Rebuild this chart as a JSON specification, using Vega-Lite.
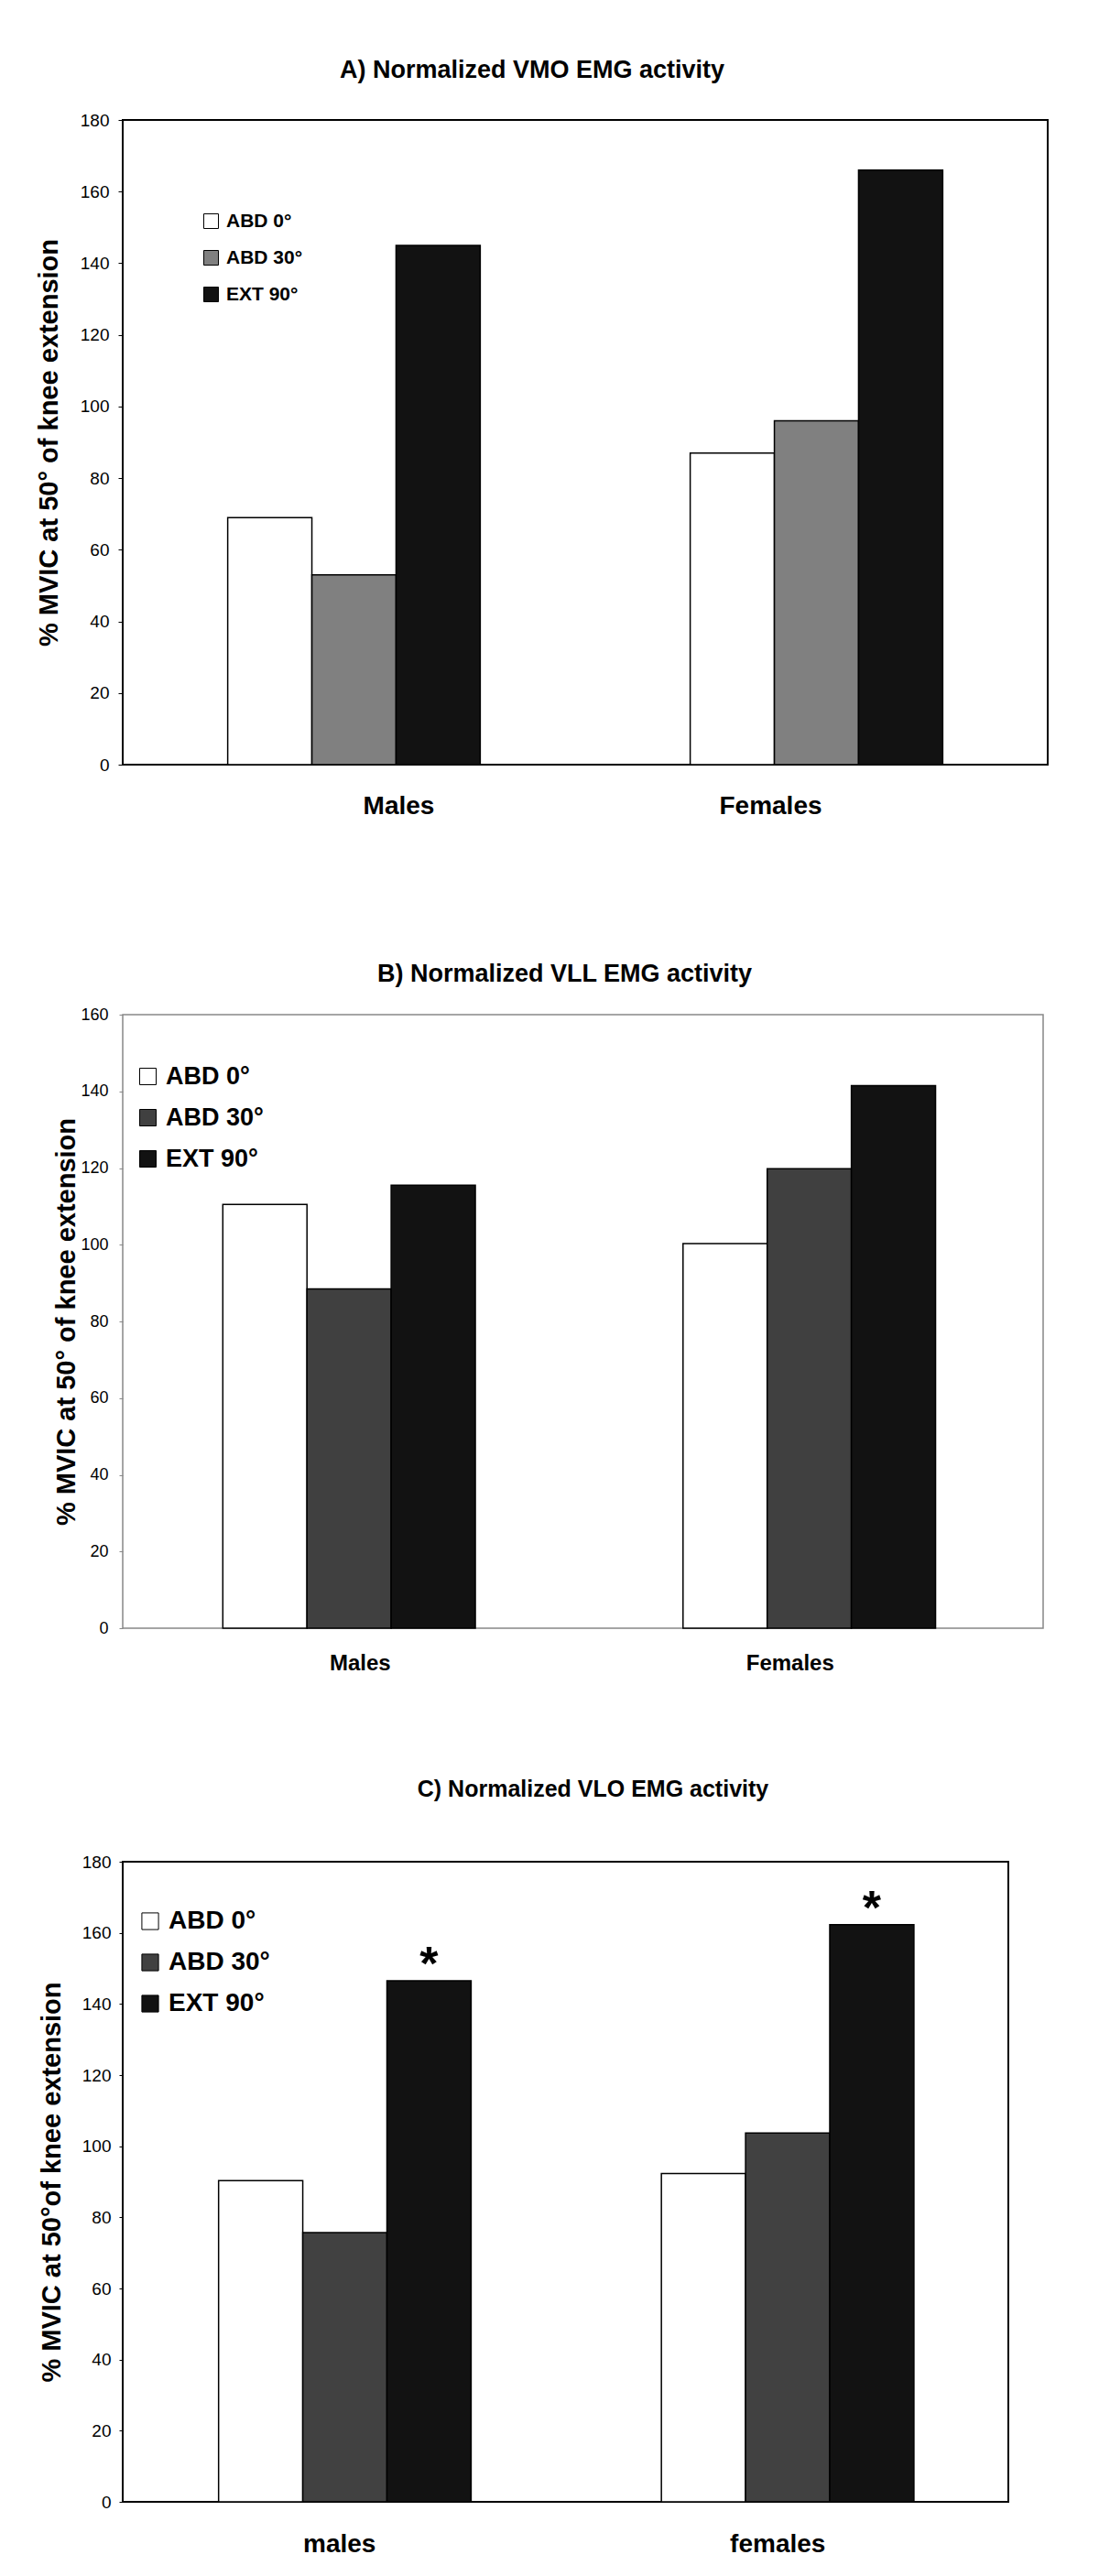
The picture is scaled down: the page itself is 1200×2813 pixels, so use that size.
{
  "$schema": "https://vega.github.io/schema/vega-lite/v6.json",
  "background": "white",
  "padding": {"left": 38, "top": 62, "right": 10, "bottom": 10},
  "bounds": "flush",
  "spacing": 273,
  "config": {
    "font": "Liberation Sans",
    "view": {"stroke": "black"},
    "axis": {"labelColor": "black", "titleColor": "black", "grid": false, "labelFont": "Liberation Sans", "titleFont": "Liberation Sans"},
    "legend": {"labelFont": "Liberation Sans"}
  },
  "datasets": {
    "vmo": [
      {"sex": "Males", "position": "ABD 0°", "value": 69},
      {"sex": "Males", "position": "ABD 30°", "value": 53},
      {"sex": "Males", "position": "EXT 90°", "value": 145},
      {"sex": "Females", "position": "ABD 0°", "value": 87},
      {"sex": "Females", "position": "ABD 30°", "value": 96},
      {"sex": "Females", "position": "EXT 90°", "value": 166}
    ],
    "vll": [
      {"sex": "Males", "position": "ABD 0°", "value": 110.5},
      {"sex": "Males", "position": "ABD 30°", "value": 88.5},
      {"sex": "Males", "position": "EXT 90°", "value": 115.5},
      {"sex": "Females", "position": "ABD 0°", "value": 100.3},
      {"sex": "Females", "position": "ABD 30°", "value": 119.8},
      {"sex": "Females", "position": "EXT 90°", "value": 141.5}
    ],
    "vlo": [
      {"sex": "males", "position": "ABD 0°", "value": 90.3, "star": ""},
      {"sex": "males", "position": "ABD 30°", "value": 75.7, "star": ""},
      {"sex": "males", "position": "EXT 90°", "value": 146.5, "star": "*"},
      {"sex": "females", "position": "ABD 0°", "value": 92.3, "star": ""},
      {"sex": "females", "position": "ABD 30°", "value": 103.7, "star": ""},
      {"sex": "females", "position": "EXT 90°", "value": 162.3, "star": "*"}
    ]
  },
  "resolve": {"scale": {"color": "independent", "x": "independent", "y": "independent"}, "legend": {"color": "independent"}},
  "vconcat": [
    {
      "title": {"text": "A) Normalized VMO EMG activity", "fontSize": 27, "fontWeight": "bold", "font": "Liberation Sans", "color": "black", "frame": "group", "anchor": "middle", "dx": -58, "offset": 10, "baseline": "alphabetic"},
      "width": 1010,
      "height": 704,
      "view": {"stroke": "black", "strokeWidth": 2},
      "data": {"name": "vmo"},
      "mark": {"type": "bar", "stroke": "black", "strokeWidth": 1.5},
      "encoding": {
        "x": {"field": "sex", "type": "nominal", "sort": ["Males", "Females"], "scale": {"paddingInner": 0.454, "paddingOuter": 0.227},
          "axis": {"title": null, "domain": false, "ticks": false, "tickSize": 0, "labelAngle": 0, "labelFontSize": 28, "labelFontWeight": "bold", "labelBaseline": "middle", "labelPadding": 45,
            "labelOffset": {"condition": {"test": "datum.value === 'Males'", "value": 49}, "value": -50}}},
        "xOffset": {"field": "position", "type": "nominal", "sort": ["ABD 0°", "ABD 30°", "EXT 90°"], "scale": {"paddingInner": 0, "paddingOuter": 0}},
        "y": {"field": "value", "type": "quantitative", "scale": {"domain": [0, 180], "nice": false},
          "axis": {"title": "% MVIC at 50° of knee extension", "titleFontSize": 29, "titleFontWeight": "bold", "titlePadding": 19, "domain": false, "ticks": true, "tickSize": 5, "tickColor": "black", "labelPadding": 10, "labelFontSize": 19, "labelFlush": false, "labelOverlap": false, "values": [0, 20, 40, 60, 80, 100, 120, 140, 160, 180]}},
        "color": {"field": "position", "type": "nominal", "sort": ["ABD 0°", "ABD 30°", "EXT 90°"],
          "scale": {"domain": ["ABD 0°", "ABD 30°", "EXT 90°"], "range": ["#ffffff", "#808080", "#121212"]},
          "legend": {"orient": "none", "legendX": 86, "legendY": 100, "title": null, "symbolType": "square", "symbolSize": 256, "symbolStrokeColor": "black", "symbolStrokeWidth": 1, "symbolOpacity": 1, "labelFontSize": 21, "labelFontWeight": "bold", "labelColor": "black", "labelOffset": 6, "rowPadding": 18, "padding": 0, "labelLimit": 300}}
      }
    },
    {
      "bounds": "flush",
      "spacing": 255,
      "resolve": {"scale": {"color": "independent", "x": "independent", "y": "independent"}, "legend": {"color": "independent"}},
      "vconcat": [
        {
          "title": {"text": "B) Normalized VLL EMG activity", "fontSize": 27, "fontWeight": "bold", "font": "Liberation Sans", "color": "black", "frame": "group", "anchor": "middle", "dx": -20, "offset": 0, "baseline": "alphabetic"},
          "width": 1005,
          "height": 670,
          "view": {"stroke": "#888888", "strokeWidth": 1.5},
          "data": {"name": "vll"},
          "mark": {"type": "bar", "stroke": "black", "strokeWidth": 1.5},
          "encoding": {
            "x": {"field": "sex", "type": "nominal", "sort": ["Males", "Females"], "scale": {"paddingInner": 0.435, "paddingOuter": 0.2175},
              "axis": {"title": null, "domain": false, "ticks": false, "tickSize": 0, "labelAngle": 0, "labelFontSize": 24, "labelFontWeight": "bold", "labelBaseline": "middle", "labelPadding": 38,
                "labelOffset": {"condition": {"test": "datum.value === 'Males'", "value": 8}, "value": -25}}},
            "xOffset": {"field": "position", "type": "nominal", "sort": ["ABD 0°", "ABD 30°", "EXT 90°"], "scale": {"paddingInner": 0, "paddingOuter": 0}},
            "y": {"field": "value", "type": "quantitative", "scale": {"domain": [0, 160], "nice": false},
              "axis": {"title": "% MVIC at 50° of knee extension", "titleFontSize": 29, "titleFontWeight": "bold", "titlePadding": 0, "domain": false, "ticks": true, "tickSize": 4, "tickColor": "#888888", "labelPadding": 12, "labelFontSize": 18, "labelFlush": false, "labelOverlap": false, "values": [0, 20, 40, 60, 80, 100, 120, 140, 160]}},
            "color": {"field": "position", "type": "nominal", "sort": ["ABD 0°", "ABD 30°", "EXT 90°"],
              "scale": {"domain": ["ABD 0°", "ABD 30°", "EXT 90°"], "range": ["#ffffff", "#404040", "#121212"]},
              "legend": {"orient": "none", "legendX": 14, "legendY": 54, "title": null, "symbolType": "square", "symbolSize": 324, "symbolStrokeColor": "black", "symbolStrokeWidth": 1, "symbolOpacity": 1, "labelFontSize": 27, "labelFontWeight": "bold", "labelColor": "black", "labelOffset": 6, "rowPadding": 17, "padding": 0, "labelLimit": 300}}
          }
        },
        {
          "title": {"text": "C) Normalized VLO EMG activity", "fontSize": 25, "fontWeight": "bold", "font": "Liberation Sans", "color": "black", "frame": "group", "anchor": "middle", "dx": 30, "offset": 37, "baseline": "alphabetic"},
          "width": 967,
          "height": 699,
          "view": {"stroke": "black", "strokeWidth": 2},
          "data": {"name": "vlo"},
          "encoding": {
            "x": {"field": "sex", "type": "nominal", "sort": ["males", "females"], "scale": {"paddingInner": 0.433, "paddingOuter": 0.2165},
              "axis": {"title": null, "domain": false, "ticks": false, "tickSize": 0, "labelAngle": 0, "labelFontSize": 28, "labelFontWeight": "bold", "labelBaseline": "middle", "labelPadding": 46,
                "labelOffset": {"condition": {"test": "datum.value === 'males'", "value": -5}, "value": -10}}},
            "xOffset": {"field": "position", "type": "nominal", "sort": ["ABD 0°", "ABD 30°", "EXT 90°"], "scale": {"paddingInner": 0, "paddingOuter": 0}},
            "y": {"field": "value", "type": "quantitative", "scale": {"domain": [0, 180], "nice": false},
              "axis": {"title": "% MVIC at 50°of knee extension", "titleFontSize": 29, "titleFontWeight": "bold", "titlePadding": 18, "domain": false, "ticks": true, "tickSize": 4, "tickColor": "black", "labelPadding": 9, "labelFontSize": 19, "labelFlush": false, "labelOverlap": false, "values": [0, 20, 40, 60, 80, 100, 120, 140, 160, 180]}}
          },
          "layer": [
            {
              "mark": {"type": "bar", "stroke": "black", "strokeWidth": 1.5},
              "encoding": {
                "color": {"field": "position", "type": "nominal", "sort": ["ABD 0°", "ABD 30°", "EXT 90°"],
                  "scale": {"domain": ["ABD 0°", "ABD 30°", "EXT 90°"], "range": ["#ffffff", "#414141", "#121212"]},
                  "legend": {"orient": "none", "legendX": 16, "legendY": 51, "title": null, "symbolType": "square", "symbolSize": 330, "symbolStrokeColor": "black", "symbolStrokeWidth": 1, "symbolOpacity": 1, "labelFontSize": 28, "labelFontWeight": "bold", "labelColor": "black", "labelOffset": 6, "rowPadding": 17, "padding": 0, "labelLimit": 300}}
              }
            },
            {
              "mark": {"type": "text", "fontSize": 52, "fontWeight": "bold", "baseline": "alphabetic", "dy": -1, "color": "black"},
              "encoding": {"text": {"field": "star"}}
            }
          ]
        }
      ]
    }
  ]
}
